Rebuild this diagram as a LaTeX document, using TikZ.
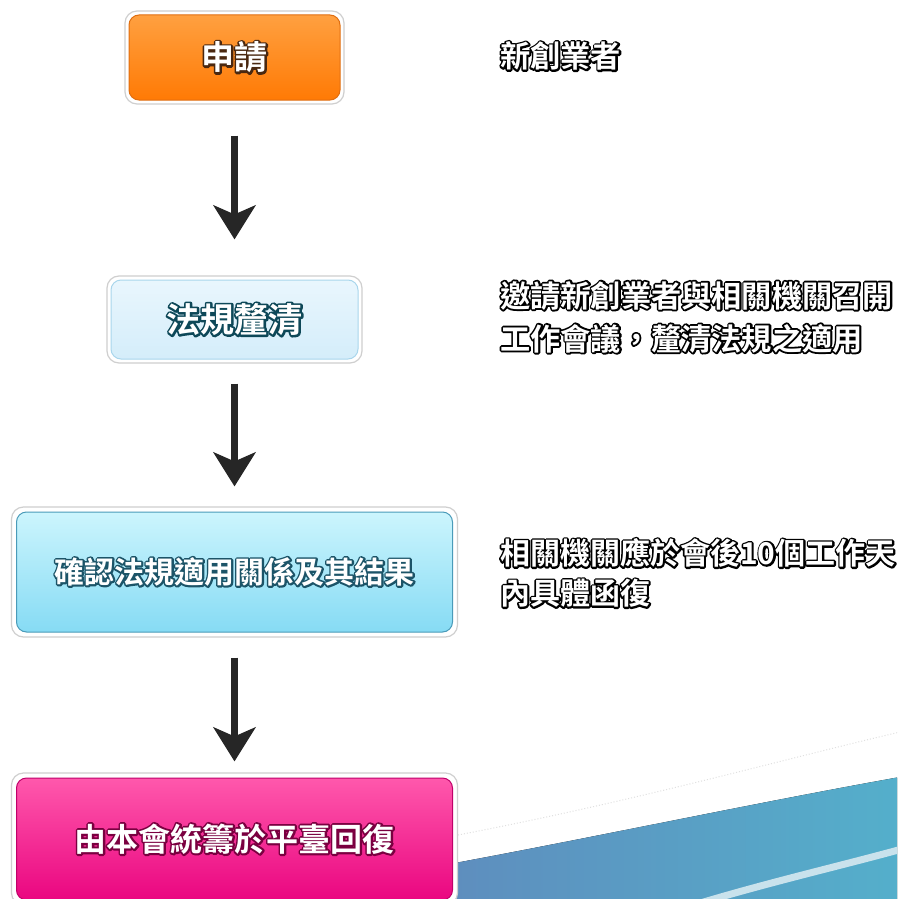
\documentclass[tikz,border=0pt]{standalone}
\usepackage{fontspec}
\newfontfamily\cjk{Noto Sans CJK TC Bold}
\newfontfamily\cjkfat{Noto Sans CJK TC Bold}[FakeBold=12]
\newcommand\olt[2]{\leavevmode\rlap{\pgfsetroundjoin\pgfsetroundcap\cjkfat\color{#1}#2}#2}
\usetikzlibrary{arrows.meta}
\definecolor{oT}{HTML}{FFA040}
\definecolor{oB}{HTML}{FF7A05}
\definecolor{oE}{HTML}{E06E10}
\definecolor{oTx}{HTML}{4A2810}
\definecolor{lT}{HTML}{E9F6FD}
\definecolor{lB}{HTML}{D4EDFA}
\definecolor{lE}{HTML}{A9D6EC}
\definecolor{lTx}{HTML}{0E4858}
\definecolor{cT}{HTML}{CCF5FD}
\definecolor{cB}{HTML}{86DBF4}
\definecolor{cE}{HTML}{4A9BB9}
\definecolor{cTx}{HTML}{1C5468}
\definecolor{pT}{HTML}{FF58AC}
\definecolor{pB}{HTML}{EA0680}
\definecolor{pE}{HTML}{C0006A}
\definecolor{pTx}{HTML}{7A0040}
\definecolor{frameE}{HTML}{CFCFCF}
\definecolor{arrC}{HTML}{262626}
\definecolor{swL}{HTML}{5E8EBE}
\definecolor{swR}{HTML}{54AFCB}
\definecolor{swLine}{HTML}{C9E2EC}
\begin{document}
\begin{tikzpicture}[x=1pt,y=-1pt, line join=round,
  frame/.style={fill=white, draw=frameE, line width=1.2pt, rounded corners=12pt, minimum width=#1, inner sep=0pt},
  boxtext/.style={text=white, inner sep=0pt, rounded corners=10pt, line width=1pt, line join=round},
  arr/.style={draw=arrC, line width=6.5pt, line join=miter, -{Stealth[length=34pt,width=42pt,inset=9pt]}},
  rtext/.style={anchor=west, inner sep=0pt, align=left, text=white, line join=round, font=\cjk\fontsize{30.2}{43}\selectfont}
]
\useasboundingbox (0,0) rectangle (897,899);
\clip (0,0) rectangle (897,899);
\fill[white] (0,0) rectangle (897,899);
% background swoosh
\fill[left color=swL, right color=swR] (455,863) .. controls (600,836) and (760,802) .. (900,777) -- (900,902) -- (455,902) -- cycle;
\draw[swLine, line width=7pt] (697,904) .. controls (770,882) and (840,866) .. (902,849);
\draw[black!12, dotted, line width=1pt] (458,835) .. controls (640,800) and (780,760) .. (900,732);
% frames
\node[frame=219pt, minimum height=93pt] (b1f) at (234.5,57.5) {};
\node[frame=255pt, minimum height=87pt] (b2f) at (234.5,319.5) {};
\node[frame=446pt, minimum height=130pt] (b3f) at (234.5,572) {};
\node[frame=446pt, minimum height=132pt] (b4f) at (234.5,839) {};
% inner boxes
\node[boxtext, draw=oE, top color=oT, bottom color=oB, minimum width=211pt, minimum height=85pt,
  font=\cjk\fontsize{33}{33}\selectfont] (b1) at (b1f.center) {\olt{oTx}{申請}};
\node[boxtext, draw=lE, top color=lT, bottom color=lB, minimum width=247pt, minimum height=79pt,
  font=\cjk\fontsize{34}{34}\selectfont] (b2) at (b2f.center) {\olt{lTx}{法規釐清}};
\node[boxtext, draw=cE, top color=cT, bottom color=cB, minimum width=436pt, minimum height=120pt,
  font=\cjk\fontsize{30}{30}\selectfont] (b3) at (b3f.center) {\olt{cTx}{確認法規適用關係及其結果}};
\node[boxtext, draw=pE, top color=pT, bottom color=pB, minimum width=436pt, minimum height=122pt,
  font=\cjk\fontsize{32}{32}\selectfont] (b4) at (b4f.center) {\olt{pTx}{由本會統籌於平臺回復}};
% arrows
\draw[arr, shorten <=31pt, shorten >=36pt] (b1f.south) -- (b2f.north);
\draw[arr, shorten <=20pt, shorten >=20pt] (b2f.south) -- (b3f.north);
\draw[arr, shorten <=20pt, shorten >=11pt] (b3f.south) -- (b4f.north);
% right texts
\node[rtext] (t1) at (500,56) {\olt{black}{新創業者}};
\node[rtext] (t2) at (500,317) {\olt{black}{邀請新創業者與相關機關召開}\\\olt{black}{工作會議，釐清法規之適用}};
\node[rtext, font=\cjk\fontsize{30}{40}\selectfont] (t3) at (500,573) {\olt{black}{相關機關應於會後10個工作天}\\\olt{black}{內具體函復}};
\end{tikzpicture}
\end{document}
